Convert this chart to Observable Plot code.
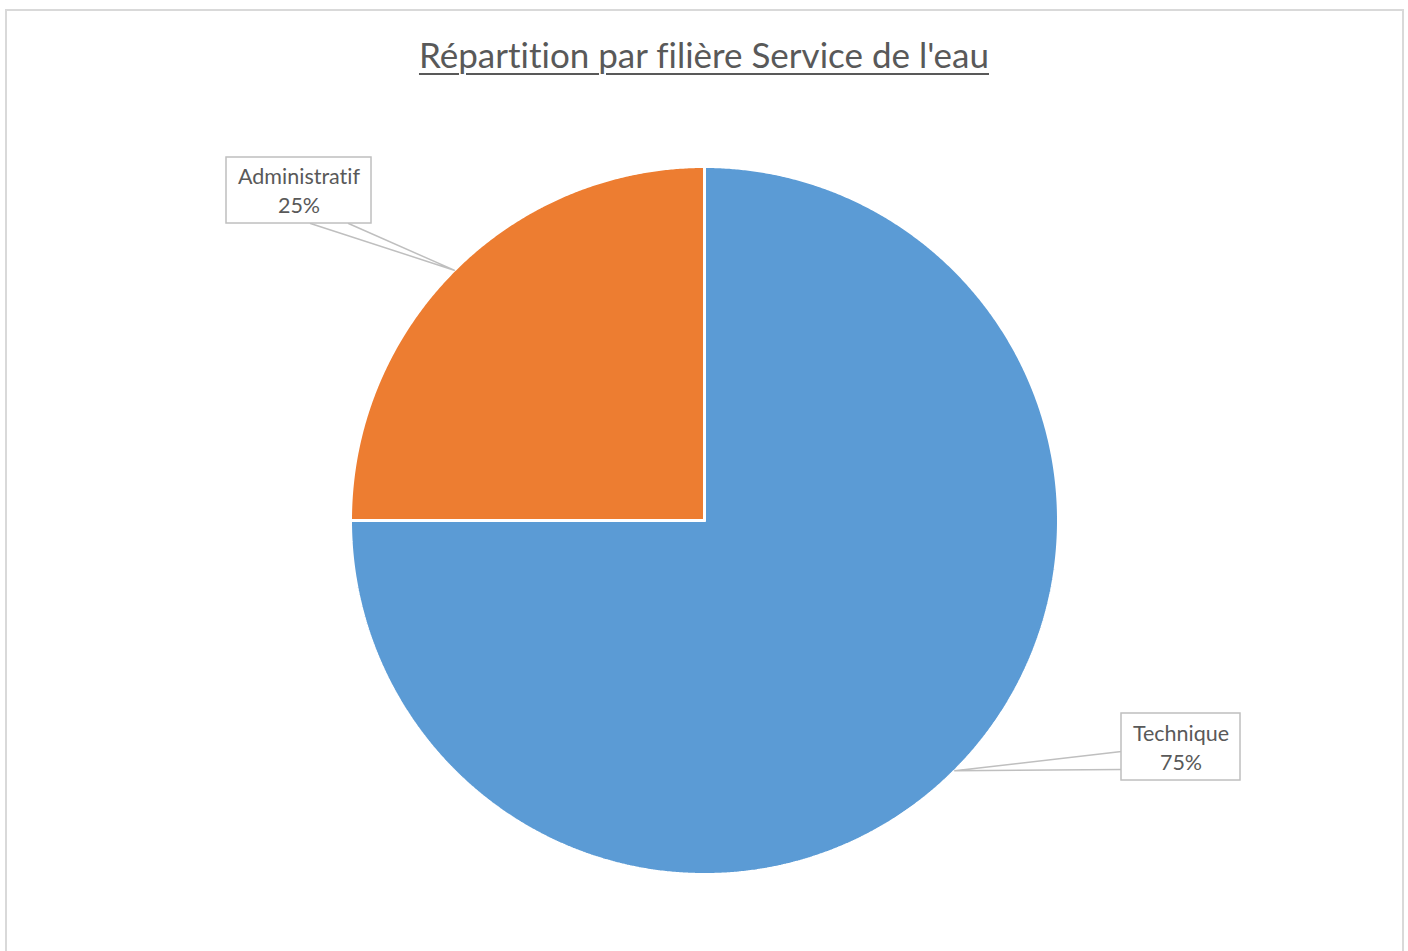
<!DOCTYPE html>
<html><head><meta charset="utf-8">
<script src="https://cdn.jsdelivr.net/npm/d3@7"></script>
<script src="https://cdn.jsdelivr.net/npm/@observablehq/plot@0.6"></script>
<style>
html,body{margin:0;padding:0;background:#fff;overflow:hidden;}
#wrap{position:relative;width:1408px;height:951px;}
#frame{position:absolute;left:5px;top:9px;width:1399px;height:960px;border:2px solid #d9d9d9;box-sizing:border-box;}
#title{position:absolute;left:0;top:33px;width:1408px;text-align:center;font-family:Lato,"Open Sans",sans-serif;font-size:35px;color:#595959;text-decoration:underline;text-decoration-thickness:2px;text-underline-offset:5px;font-variant-ligatures:none;font-feature-settings:"liga" 0;}
#chart{position:absolute;left:0;top:0;}
#chart text{font-variant-ligatures:none;font-feature-settings:"liga" 0;}
</style></head>
<body><div id="wrap"><div id="frame"></div><div id="title">Répartition par filière Service de l'eau</div><div id="chart"></div></div>
<script>
const categories = ["Technique", "Administratif"];
const values = [75, 25];
const colors = ["#5B9BD5", "#ED7D31"];

const W = 1408, H = 951, CX = 704, CY = 520, R = 354;
const total = d3.sum(values);
const pie = d3.pie().sort(null).value(d => d)(values);

// slice polygons in unit-circle data coordinates (angle 0 at top, clockwise)
const pts = [];
pie.forEach((p, i) => {
  const n = Math.max(2, Math.ceil((p.endAngle - p.startAngle) / 0.005));
  pts.push({cat: categories[i], x: 0, y: 0});
  for (let k = 0; k <= n; k++) {
    const a = p.startAngle + (p.endAngle - p.startAngle) * k / n;
    pts.push({cat: categories[i], x: Math.sin(a), y: Math.cos(a)});
  }
  pts.push({cat: categories[i], x: 0, y: 0});
});

// label layout (pixel boxes)
const px = v => (v - CX) / R, py = v => (CY - v) / R;
const boxes = {
  "Administratif": {x1: 226, x2: 371, y1: 157, y2: 223, b1: [310, 223], b2: [348, 223]},
  "Technique": {x1: 1121, x2: 1240, y1: 713, y2: 780, b1: [1121, 751], b2: [1121, 769]}
};
const labels = pie.map((p, i) => {
  const m = (p.startAngle + p.endAngle) / 2;
  const b = boxes[categories[i]];
  return {cat: categories[i], pct: Math.round(values[i] / total * 100) + "%",
    tx: Math.sin(m), ty: Math.cos(m), ...b};
});
const leaders = [];
labels.forEach(l => {
  leaders.push({cat: l.cat, x: px(l.b1[0]), y: py(l.b1[1])});
  leaders.push({cat: l.cat, x: l.tx, y: l.ty});
  leaders.push({cat: l.cat, x: px(l.b2[0]), y: py(l.b2[1])});
});

const chart = Plot.plot({
  width: W, height: H, margin: 0,
  x: {domain: [px(0), px(W)], range: [0, W], axis: null},
  y: {domain: [py(H), py(0)], range: [H, 0], axis: null},
  color: {domain: categories, range: colors},
  style: {background: "transparent"},
  marks: [
    Plot.line(pts, {x: "x", y: "y", z: "cat", fill: "cat", stroke: "white", strokeWidth: 3, strokeLinejoin: "miter", curve: "linear"}),
    Plot.line(leaders, {x: "x", y: "y", z: "cat", stroke: "#bfbfbf", strokeWidth: 1.5}),
    Plot.rect(labels, {x1: d => px(d.x1), x2: d => px(d.x2), y1: d => py(d.y1), y2: d => py(d.y2), fill: "white", stroke: "#bfbfbf", strokeWidth: 1.5}),
    Plot.text(labels, {x: d => px((d.x1 + d.x2) / 2), y: d => py((d.y1 + d.y2) / 2 - 1), text: d => d.cat + "\n" + d.pct, fill: "#595959", fontSize: 21.5, lineHeight: 1.35, fontFamily: "Lato, 'Open Sans', sans-serif"})
  ]
});
document.getElementById("chart").appendChild(chart);
</script></body></html>
